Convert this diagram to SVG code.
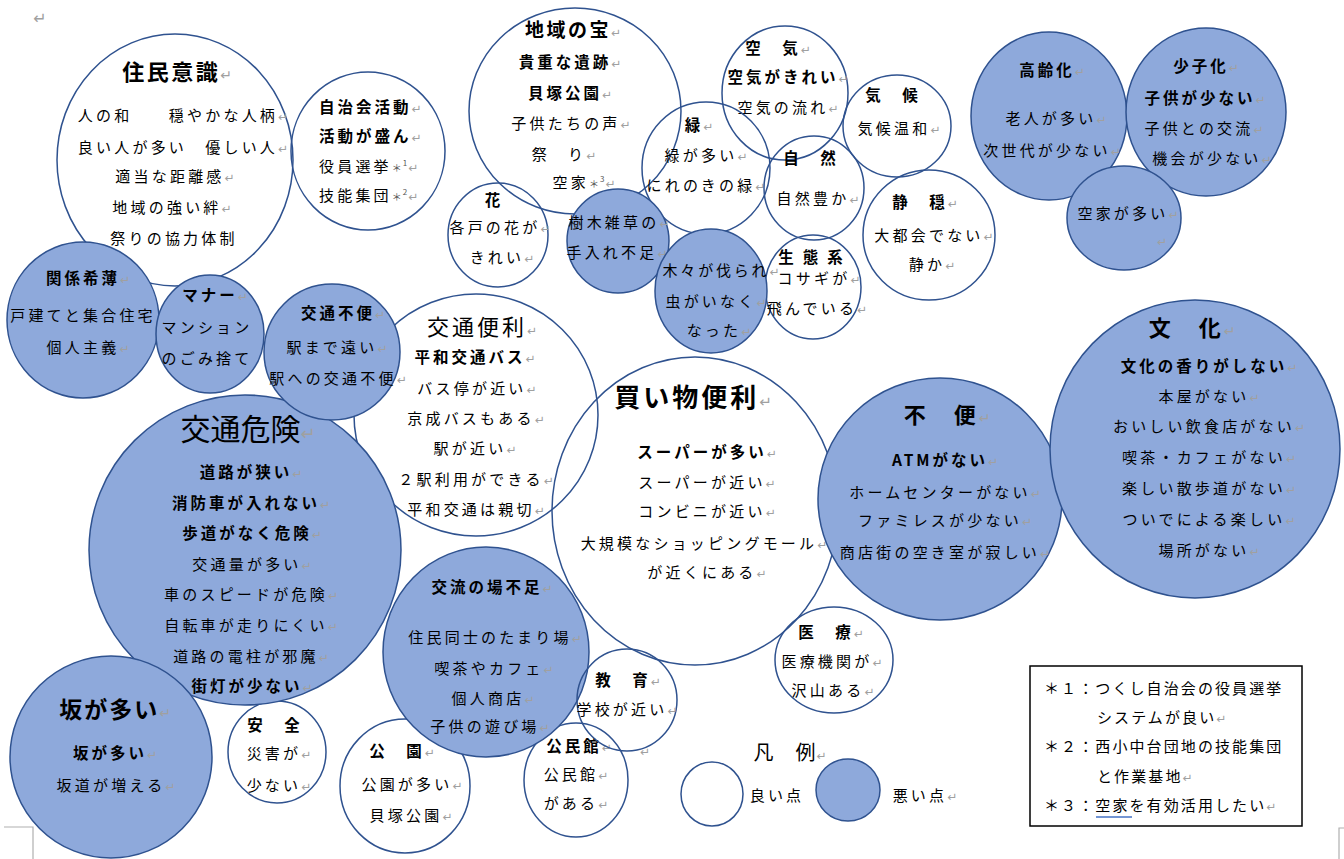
<svg xmlns="http://www.w3.org/2000/svg" width="1344" height="859" viewBox="0 0 1344 859">
<style>
text{font-family:"Noto Sans CJK JP","Noto Sans CJK SC",sans-serif;fill:#000;text-anchor:middle;font-size:15px;letter-spacing:3.2px}
.b{font-weight:700;font-size:15.5px;letter-spacing:3px}
.s{text-anchor:start}
.lg{text-anchor:start;letter-spacing:2.1px}
.pm{fill:#a0a0a0;font-family:"DejaVu Sans",sans-serif;font-size:12px;font-weight:400;letter-spacing:0}
.sup{font-size:8px;letter-spacing:1px;fill:#555}
.ast{font-size:10px;letter-spacing:1px;fill:#555}
.cw{fill:none;stroke:#2F528F;stroke-width:1.5}
.cb{fill:#8EA9DB;stroke:#2F528F;stroke-width:1.5}
.mark{fill:none;stroke:#b0b0b0;stroke-width:1.2}
</style>
<rect width="1344" height="859" fill="#fff"/>
<text x="40" y="24" class="pm" style="font-size:16px">↵</text>
<path class="mark" d="M4 827H33V859M1344 828H1339V859"/>
<g id="connectors"/>

<!-- good-point (white) nodes -->
<g id="n-jumin">
<ellipse class="cw" cx="175" cy="160" rx="118" ry="126"/>
<text x="177" y="80" class="b" style="font-size:22px;letter-spacing:2.5px">住民意識<tspan class="pm" style="font-size:14px">↵</tspan></text>
<text x="183" y="121">人の和　　穏やかな人柄<tspan class="pm">↵</tspan></text>
<text x="183" y="153">良い人が多い　優しい人<tspan class="pm">↵</tspan></text>
<text x="175" y="182">適当な距離感<tspan class="pm">↵</tspan></text>
<text x="172" y="213">地域の強い絆<tspan class="pm">↵</tspan></text>
<text x="174" y="244">祭りの協力体制</text>
</g>
<g id="n-jichi">
<ellipse class="cw" cx="368" cy="151" rx="77" ry="79"/>
<text x="319" y="113" class="b s">自治会活動<tspan class="pm">↵</tspan></text>
<text x="319" y="142" class="b s">活動が盛ん<tspan class="pm">↵</tspan></text>
<text x="319" y="172" class="s">役員選挙<tspan class="ast">＊</tspan><tspan class="sup" dy="-6">1</tspan><tspan class="pm" dy="6">↵</tspan></text>
<text x="319" y="201" class="s">技能集団<tspan class="ast">＊</tspan><tspan class="sup" dy="-6">2</tspan><tspan class="pm" dy="6">↵</tspan></text>
</g>
<g id="n-chiiki">
<ellipse class="cw" cx="575" cy="111" rx="106" ry="103"/>
<text x="573" y="37" class="b" style="font-size:19px;letter-spacing:2.5px">地域の宝<tspan class="pm">↵</tspan></text>
<text x="570" y="68" class="b">貴重な遺跡<tspan class="pm">↵</tspan></text>
<text x="570" y="99" class="b">貝塚公園<tspan class="pm">↵</tspan></text>
<text x="571" y="129">子供たちの声<tspan class="pm">↵</tspan></text>
<text x="564" y="160">祭　り<tspan class="pm">↵</tspan></text>
<text x="584" y="188">空家<tspan class="ast">＊</tspan><tspan class="sup" dy="-6">3</tspan><tspan class="pm" dy="6">↵</tspan></text>
</g>
<g id="n-kuki">
<ellipse class="cw" cx="785" cy="93" rx="63" ry="67"/>
<text x="778" y="54" class="b">空　気<tspan class="pm">↵</tspan></text>
<text x="788" y="83" class="b">空気がきれい<tspan class="pm">↵</tspan></text>
<text x="788" y="113">空気の流れ<tspan class="pm">↵</tspan></text>
</g>
<g id="n-midori">
<ellipse class="cw" cx="706" cy="168" rx="64" ry="66"/>
<text x="699" y="131" class="b">緑<tspan class="pm">↵</tspan></text>
<text x="706" y="161">緑が多い<tspan class="pm">↵</tspan></text>
<text x="706" y="191">にれのきの緑<tspan class="pm">↵</tspan></text>
</g>
<g id="n-shizen">
<ellipse class="cw" cx="814" cy="188" rx="50" ry="52"/>
<text x="811" y="164" class="b">自　然</text>
<text x="818" y="204">自然豊か<tspan class="pm">↵</tspan></text>
</g>
<g id="n-kiko">
<ellipse class="cw" cx="897" cy="126" rx="54" ry="51"/>
<text x="893" y="101" class="b">気　候</text>
<text x="899" y="134">気候温和<tspan class="pm">↵</tspan></text>
</g>
<g id="n-seion">
<ellipse class="cw" cx="929" cy="235" rx="66" ry="65"/>
<text x="925" y="208" class="b">静　穏<tspan class="pm">↵</tspan></text>
<text x="934" y="241">大都会でない<tspan class="pm">↵</tspan></text>
<text x="932" y="270">静か<tspan class="pm">↵</tspan></text>
</g>
<g id="n-seitai">
<ellipse class="cw" cx="813" cy="287" rx="48" ry="52"/>
<text x="815" y="263" class="b" style="letter-spacing:9px">生態系</text>
<text x="819" y="284">コサギが<tspan class="pm">↵</tspan></text>
<text x="817" y="314">飛んでいる<tspan class="pm">↵</tspan></text>
</g>
<g id="n-hana">
<ellipse class="cw" cx="498" cy="235" rx="50" ry="52"/>
<text x="494" y="206" class="b">花</text>
<text x="500" y="233">各戸の花が<tspan class="pm">↵</tspan></text>
<text x="502" y="263">きれい<tspan class="pm">↵</tspan></text>
</g>
<g id="n-kotsubenri">
<ellipse class="cw" cx="476" cy="415" rx="122" ry="121"/>
<text x="482" y="335" style="font-size:22px;letter-spacing:3px">交通便利<tspan class="pm">↵</tspan></text>
<text x="475" y="363" class="b">平和交通バス<tspan class="pm">↵</tspan></text>
<text x="477" y="394">バス停が近い<tspan class="pm">↵</tspan></text>
<text x="476" y="424">京成バスもある<tspan class="pm">↵</tspan></text>
<text x="475" y="454">駅が近い<tspan class="pm">↵</tspan></text>
<text x="476" y="485">２駅利用ができる<tspan class="pm">↵</tspan></text>
<text x="476" y="515">平和交通は親切<tspan class="pm">↵</tspan></text>
</g>
<g id="n-kaimono">
<ellipse class="cw" cx="695" cy="511" rx="143" ry="154"/>
<text x="693" y="407" class="b" style="font-size:26px;letter-spacing:3px">買い物便利<tspan class="pm" style="font-size:15px">↵</tspan></text>
<text x="707" y="458" class="b">スーパーが多い<tspan class="pm">↵</tspan></text>
<text x="707" y="488">スーパーが近い<tspan class="pm">↵</tspan></text>
<text x="707" y="517">コンビニが近い<tspan class="pm">↵</tspan></text>
<text x="704" y="549">大規模なショッピングモール<tspan class="pm">↵</tspan></text>
<text x="707" y="578">が近くにある<tspan class="pm">↵</tspan></text>
</g>
<g id="n-anzen">
<ellipse class="cw" cx="277" cy="752" rx="49" ry="51"/>
<text x="275" y="731" class="b">安　全</text>
<text x="279" y="759">災害が<tspan class="pm">↵</tspan></text>
<text x="279" y="791">少ない<tspan class="pm">↵</tspan></text>
</g>
<g id="n-koen">
<ellipse class="cw" cx="405" cy="786" rx="65" ry="67"/>
<text x="402" y="757" class="b">公　園<tspan class="pm">↵</tspan></text>
<text x="412" y="790">公園が多い<tspan class="pm">↵</tspan></text>
<text x="411" y="821">貝塚公園<tspan class="pm">↵</tspan></text>
</g>
<g id="n-kominkan">
<ellipse class="cw" cx="576" cy="780" rx="52" ry="57"/>
<text x="579" y="752" class="b">公民館<tspan class="pm">↵</tspan></text>
<text x="576" y="780">公民館<tspan class="pm">↵</tspan></text>
<text x="576" y="809">がある<tspan class="pm">↵</tspan></text>
</g>
<g id="n-iryo">
<ellipse class="cw" cx="834" cy="660" rx="59" ry="53"/>
<text x="831" y="638" class="b">医　療<tspan class="pm">↵</tspan></text>
<text x="832" y="667">医療機関が<tspan class="pm">↵</tspan></text>
<text x="833" y="696">沢山ある<tspan class="pm">↵</tspan></text>
</g>

<!-- bad-point (blue) nodes -->
<g id="n-jumoku">
<ellipse class="cb" cx="618" cy="241" rx="51" ry="52"/>
<text x="619" y="228">樹木雑草の<tspan class="pm">↵</tspan></text>
<text x="617" y="258">手入れ不足<tspan class="pm">↵</tspan></text>
</g>
<g id="n-kigi">
<ellipse class="cb" cx="711" cy="291" rx="56" ry="62"/>
<text x="721" y="276" style="letter-spacing:2.8px">木々が伐られ<tspan class="pm">↵</tspan></text>
<text x="716" y="307">虫がいなく<tspan class="pm">↵</tspan></text>
<text x="719" y="336">なった<tspan class="pm">↵</tspan></text>
</g>
<g id="n-koreika">
<ellipse class="cb" cx="1049" cy="116" rx="78" ry="84"/>
<text x="1052" y="76" class="b">高齢化<tspan class="pm">↵</tspan></text>
<text x="1056" y="124">老人が多い<tspan class="pm">↵</tspan></text>
<text x="1052" y="156">次世代が少ない<tspan class="pm">↵</tspan></text>
</g>
<g id="n-shoshika">
<ellipse class="cb" cx="1206" cy="112" rx="80" ry="84"/>
<text x="1206" y="72" class="b">少子化<tspan class="pm">↵</tspan></text>
<text x="1205" y="104" class="b">子供が少ない<tspan class="pm">↵</tspan></text>
<text x="1204" y="134">子供との交流<tspan class="pm">↵</tspan></text>
<text x="1212" y="164">機会が少ない<tspan class="pm">↵</tspan></text>
</g>
<g id="n-akiya">
<ellipse class="cb" cx="1124" cy="218" rx="57" ry="52"/>
<text x="1128" y="219">空家が多い<tspan class="pm">↵</tspan></text>
<text x="1162" y="246" class="pm">↵</text>
</g>
<g id="n-kankei">
<ellipse class="cb" cx="83" cy="320" rx="76" ry="78"/>
<text x="88" y="284" class="b">関係希薄<tspan class="pm">↵</tspan></text>
<text x="83" y="321">戸建てと集合住宅</text>
<text x="88" y="353">個人主義<tspan class="pm">↵</tspan></text>
</g>
<g id="n-manner">
<ellipse class="cb" cx="210" cy="334" rx="54" ry="59"/>
<text x="215" y="301" class="b">マナー<tspan class="pm">↵</tspan></text>
<text x="207" y="333">マンション</text>
<text x="207" y="364">のごみ捨て</text>
</g>
<g id="n-kiken">
<ellipse class="cb" cx="245" cy="550" rx="156" ry="155"/>
<text x="248" y="440" style="font-size:30px;letter-spacing:0">交通危険<tspan class="pm" style="font-size:18px">↵</tspan></text>
<text x="251" y="478" class="b">道路が狭い<tspan class="pm">↵</tspan></text>
<text x="251" y="509" class="b">消防車が入れない<tspan class="pm">↵</tspan></text>
<text x="252" y="539" class="b">歩道がなく危険<tspan class="pm">↵</tspan></text>
<text x="252" y="570">交通量が多い<tspan class="pm">↵</tspan></text>
<text x="251" y="600">車のスピードが危険<tspan class="pm">↵</tspan></text>
<text x="251" y="631">自転車が走りにくい<tspan class="pm">↵</tspan></text>
<text x="251" y="662">道路の電柱が邪魔<tspan class="pm">↵</tspan></text>
<text x="252" y="692" class="b">街灯が少ない<tspan class="pm">↵</tspan></text>
</g>
<g id="n-kotsufuben">
<ellipse class="cb" cx="332" cy="352" rx="68" ry="68"/>
<text x="343" y="319" class="b">交通不便<tspan class="pm">↵</tspan></text>
<text x="337" y="353">駅まで遠い<tspan class="pm">↵</tspan></text>
<text x="338" y="384">駅への交通不便<tspan class="pm">↵</tspan></text>
</g>
<g id="n-saka">
<ellipse class="cb" cx="111" cy="757" rx="101" ry="101"/>
<text x="115" y="718" class="b" style="font-size:23px;letter-spacing:2px">坂が多い<tspan class="pm" style="font-size:14px">↵</tspan></text>
<text x="115" y="759" class="b">坂が多い<tspan class="pm">↵</tspan></text>
<text x="116" y="791">坂道が増える<tspan class="pm">↵</tspan></text>
</g>
<g id="n-koryu">
<ellipse class="cb" cx="486" cy="652" rx="103" ry="105"/>
<text x="492" y="593" class="b">交流の場不足<tspan class="pm">↵</tspan></text>
<text x="495" y="643">住民同士のたまり場<tspan class="pm">↵</tspan></text>
<text x="494" y="674">喫茶やカフェ<tspan class="pm">↵</tspan></text>
<text x="493" y="704">個人商店<tspan class="pm">↵</tspan></text>
<text x="490" y="732">子供の遊び場<tspan class="pm">↵</tspan></text>
</g>
<g id="n-kyoiku">
<ellipse class="cw" cx="627" cy="700" rx="50" ry="51"/>
<text x="628" y="686" class="b">教　育<tspan class="pm">↵</tspan></text>
<text x="627" y="715">学校が近い<tspan class="pm">↵</tspan></text>
<text x="645" y="756" class="pm">↵</text>
</g>
<g id="n-fuben">
<ellipse class="cb" cx="940" cy="499" rx="122" ry="121"/>
<text x="947" y="423" class="b" style="font-size:22px;letter-spacing:3px">不　便<tspan class="pm" style="font-size:14px">↵</tspan></text>
<text x="945" y="466" class="b">ATMがない<tspan class="pm">↵</tspan></text>
<text x="945" y="498">ホームセンターがない<tspan class="pm">↵</tspan></text>
<text x="945" y="526">ファミレスが少ない<tspan class="pm">↵</tspan></text>
<text x="945" y="558">商店街の空き室が寂しい<tspan class="pm">↵</tspan></text>
</g>
<g id="n-bunka">
<ellipse class="cb" cx="1195" cy="449" rx="145" ry="149"/>
<text x="1192" y="336" class="b" style="font-size:22px;letter-spacing:3px">文　化<tspan class="pm" style="font-size:14px">↵</tspan></text>
<text x="1209" y="372" class="b">文化の香りがしない<tspan class="pm">↵</tspan></text>
<text x="1209" y="402">本屋がない<tspan class="pm">↵</tspan></text>
<text x="1209" y="432">おいしい飲食店がない<tspan class="pm">↵</tspan></text>
<text x="1209" y="463">喫茶・カフェがない<tspan class="pm">↵</tspan></text>
<text x="1209" y="494">楽しい散歩道がない<tspan class="pm">↵</tspan></text>
<text x="1209" y="525">ついでによる楽しい<tspan class="pm">↵</tspan></text>
<text x="1209" y="556">場所がない<tspan class="pm">↵</tspan></text>
</g>

<!-- legend -->
<g id="legend">
<text x="790" y="760" style="font-size:20px;letter-spacing:1px">凡　例<tspan class="pm">↵</tspan></text>
<ellipse class="cw" cx="712" cy="794" rx="31" ry="32"/>
<text x="777" y="801">良い点</text>
<ellipse class="cb" cx="848" cy="790" rx="32" ry="31"/>
<text x="925" y="801">悪い点<tspan class="pm">↵</tspan></text>
</g>
<g id="notes">
<rect x="1030" y="666" width="272" height="160" fill="#fff" stroke="#000" stroke-width="1.5"/>
<text x="1044" y="694" class="lg">＊１：つくし自治会の役員選挙</text>
<text x="1097" y="723" class="lg">システムが良い<tspan class="pm">↵</tspan></text>
<text x="1044" y="752" class="lg">＊２：西小中台団地の技能集団</text>
<text x="1097" y="782" class="lg">と作業基地<tspan class="pm">↵</tspan></text>
<text x="1044" y="811" class="lg">＊３：空家を有効活用したい<tspan class="pm">↵</tspan></text>
<line x1="1096" y1="817" x2="1132" y2="817" stroke="#4472C4" stroke-width="1.5"/>
</g>
</svg>
